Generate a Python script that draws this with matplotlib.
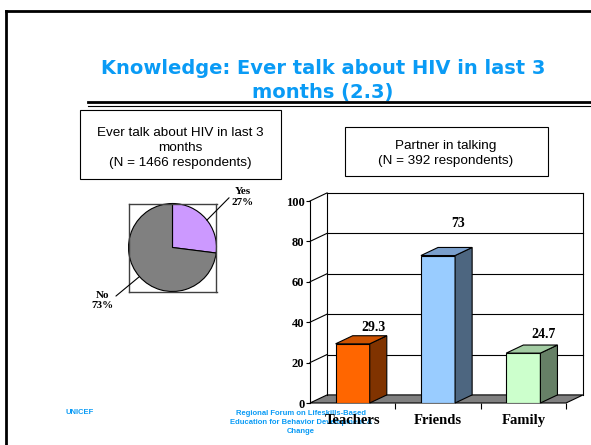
import matplotlib.pyplot as plt
from matplotlib.patches import Polygon, Rectangle

# data
pie_labels = ['Yes', 'No']
pie_values = [27, 73]
categories = ['Teachers', 'Friends', 'Family']
values = [29.3, 73, 24.7]
value_text = ['29.3', '73', '24.7']
yticks = [0, 20, 40, 60, 80, 100]

blue = '#0A9BF5'
front_c = ['#FF6600', '#99CCFF', '#CCFFCC']
side_c = ['#803300', '#4D6680', '#668066']
top_c = ['#CC5200', '#7A9FCC', '#A3CCA3']
label_dy = [8, 16, 9]

W, H = 591, 445
fig = plt.figure(figsize=(W / 100, H / 100), dpi=100)


def box(x0, y0, x1, y1):
    return [x0 / W, 1 - y1 / H, (x1 - x0) / W, (y1 - y0) / H]


# slide background layer in pixel units
bg = fig.add_axes([0, 0, 1, 1])
bg.set_xlim(0, W)
bg.set_ylim(H, 0)
bg.axis('off')
bg.plot([6, W], [11, 11], color='black', lw=2)
bg.plot([6, 6], [11, H], color='black', lw=2)
bg.plot([88, W], [102, 102], color='black', lw=2)
bg.plot([88, W], [105.5, 105.5], color='black', lw=0.8)

bg.text(323, 80.5, 'Knowledge: Ever talk about HIV in last 3\nmonths (2.3)',
        ha='center', va='center', color=blue, fontsize=14, fontweight='bold',
        family='DejaVu Sans', linespacing=1.3)

bg.add_patch(Rectangle((80, 110), 201, 69, fill=False, ec='black', lw=0.8))
bg.text(180, 148, 'Ever talk about HIV in last 3\nmonths\n(N = 1466 respondents)',
        ha='center', va='center', fontsize=9.7, family='Liberation Sans', linespacing=1.35)
bg.add_patch(Rectangle((345, 127), 203, 49, fill=False, ec='black', lw=0.8))
bg.text(446, 153.5, 'Partner in talking\n(N = 392 respondents)',
        ha='center', va='center', fontsize=9.7, family='Liberation Sans', linespacing=1.35)

bg.text(80, 412, 'UNICEF', ha='center', va='center', color=blue,
        fontsize=5.5, fontweight='bold', family='Liberation Sans')
bg.text(301, 422.5, 'Regional Forum on Lifeskills-Based\nEducation for Behavior Development &\nChange',
        ha='center', va='center', color=blue, fontsize=5.5, fontweight='bold',
        family='Liberation Sans', linespacing=1.4, zorder=5)

# pie
axp = fig.add_axes(box(128.5, 203.5, 216.5, 291.5))
axp.pie(pie_values, colors=['#CC99FF', '#808080'], startangle=90, counterclock=False,
        wedgeprops=dict(edgecolor='black', linewidth=0.8))
axp.set_frame_on(True)
axp.set_xlim(-1, 1)
axp.set_ylim(-1, 1)
axp.set_xticks([])
axp.set_yticks([])
for s in axp.spines.values():
    s.set_color('#404040')
    s.set_linewidth(1)
lbl_font = dict(family='Liberation Serif', fontweight='bold', fontsize=8, ha='center', va='center')
axp.annotate('%s\n%d%%' % (pie_labels[0], pie_values[0]), xy=(0.78, 0.62), xytext=(1.6, 1.15),
             arrowprops=dict(arrowstyle='-', color='black', lw=0.8, shrinkA=0, shrinkB=0,
                             relpos=(0, 0.6)),
             annotation_clip=False, **lbl_font)
axp.annotate('%s\n%d%%' % (pie_labels[1], pie_values[1]), xy=(-0.75, -0.66), xytext=(-1.6, -1.2),
             arrowprops=dict(arrowstyle='-', color='black', lw=0.8, shrinkA=0, shrinkB=0,
                             relpos=(1, 0.6)),
             annotation_clip=False, **lbl_font)

# 3d-looking bar chart
ax = fig.add_axes(box(310, 201, 566, 403))
x0, x1 = -0.5, 2.5
dx, dy = 0.2, 4
ax.set_xlim(x0, x1)
ax.set_ylim(0, 100)

ax.add_patch(Polygon([(x0, 0), (x1, 0), (x1 + dx, dy), (x0 + dx, dy)], closed=True,
                     fc='#808080', ec='black', lw=0.8, clip_on=False, zorder=1))
for t in yticks[1:]:
    ax.plot([x0 + dx, x1 + dx], [t + dy, t + dy], color='black', lw=0.8, clip_on=False, zorder=1)
    ax.plot([x0, x0 + dx], [t, t + dy], color='black', lw=0.8, clip_on=False, zorder=1)
ax.plot([x0 + dx, x0 + dx], [dy, 100 + dy], color='black', lw=0.8, clip_on=False, zorder=1)
ax.plot([x1 + dx, x1 + dx], [dy, 100 + dy], color='black', lw=0.8, clip_on=False, zorder=1)

w = 0.4
for i, v in enumerate(values):
    ax.bar(i, v, width=w, color=front_c[i], edgecolor='black', linewidth=0.8, zorder=3)
    r = i + w / 2
    l = i - w / 2
    ax.add_patch(Polygon([(r, 0), (r + dx, dy), (r + dx, v + dy), (r, v)], closed=True,
                         fc=side_c[i], ec='black', lw=0.8, zorder=3, clip_on=False))
    ax.add_patch(Polygon([(l, v), (r, v), (r + dx, v + dy), (l + dx, v + dy)], closed=True,
                         fc=top_c[i], ec='black', lw=0.8, zorder=3, clip_on=False))
    ax.text(i + 0.24, v + label_dy[i], value_text[i], ha='center', va='center',
            family='Liberation Serif', fontweight='bold', fontsize=10)

for s in ['top', 'right', 'bottom']:
    ax.spines[s].set_visible(False)
ax.spines['left'].set_linewidth(0.8)
ax.set_yticks(yticks)
ax.set_yticklabels([str(t) for t in yticks], family='Liberation Serif', fontweight='bold', fontsize=9)
ax.tick_params(axis='y', length=3, width=0.8, pad=1)
ax.set_xticks(range(len(categories)))
ax.set_xticklabels(categories, family='Liberation Serif', fontweight='bold', fontsize=10.5)
ax.set_xticks([0.5, 1.5, 2.5], minor=True)
ax.tick_params(axis='x', which='major', length=0, pad=8)
ax.tick_params(axis='x', which='minor', length=4, width=0.8, direction='out')
ax.patch.set_visible(False)

fig.savefig('out.png', dpi=100)
